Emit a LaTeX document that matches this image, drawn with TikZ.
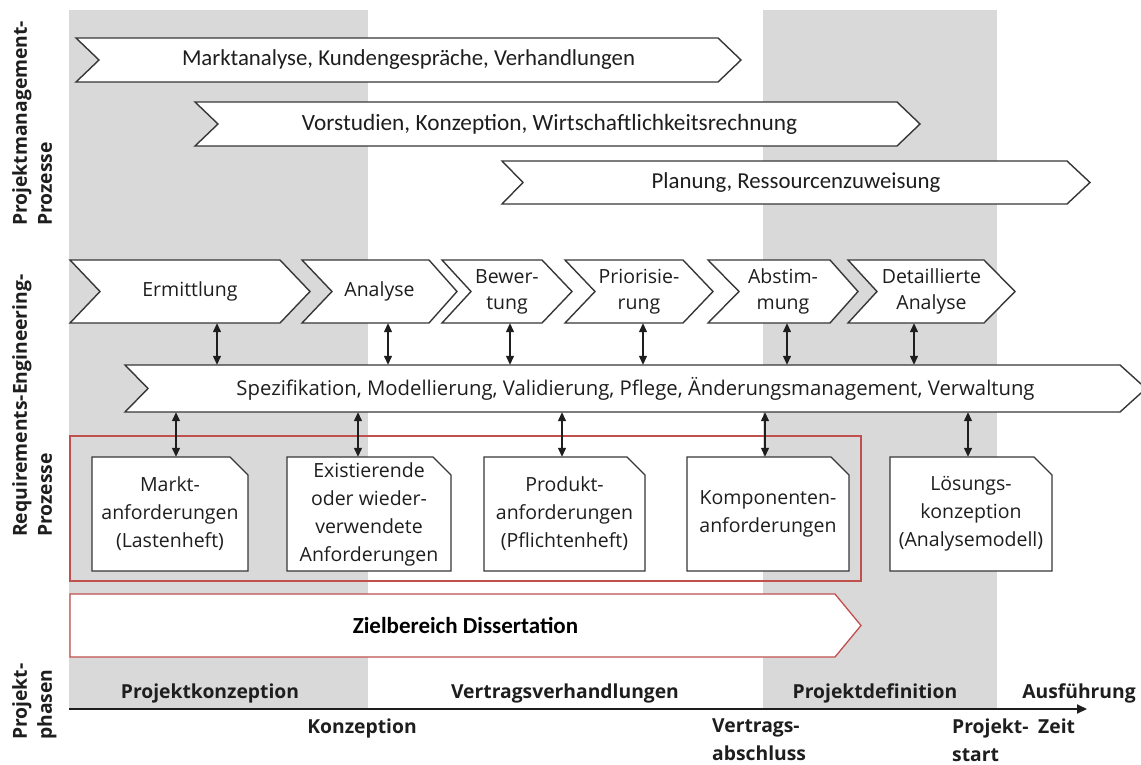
\documentclass[tikz,border=0pt]{standalone}
\usepackage{fontspec}
\setmainfont{Open Sans}
\newfontfamily\calfont{Carlito}
\usetikzlibrary{arrows.meta}

\definecolor{band}{RGB}{217,217,217}
\definecolor{ink}{RGB}{30,30,30}
\definecolor{outline}{RGB}{55,55,55}
\definecolor{redline}{RGB}{192,80,77}

% chevron: #1 style prefix, #2 name, #3 left x, #4 top y, #5 tip x, #6 bottom y,
%          #7 notch depth, #8 point depth, #9 text
\newcommand\chevron[9]{%
  \draw[#1 shape] (#3,#4) -- ({#5-#8},#4) -- (#5,{(#4+#6)/2}) -- ({#5-#8},#6)
    -- (#3,#6) -- ({#3+#7},{(#4+#6)/2}) -- cycle;
  \node[#1, minimum width={#5-#3}, minimum height={#6-#4}] (#2)
    at ({(#3+#5)/2},{(#4+#6)/2}) {#9};}

% document with cut corner: #1 name, #2 left, #3 top, #4 right, #5 bottom, #6 text
\newcommand\docbox[6]{%
  \draw[doc shape] (#2,#3) -- ({#4-18},#3) -- (#4,{#3+18}) -- (#4,#5) -- (#2,#5) -- cycle;
  \node[doc, minimum width={#4-#2}, minimum height={#5-#3}] (#1)
    at ({(#2+#4)/2},{(#3+#5)/2}) {#6};}

\begin{document}
\begin{tikzpicture}[x=1pt,y=-1pt,
  pm shape/.style={draw=outline, fill=white, line width=1.4pt},
  pm/.style={font=\calfont\fontsize{22.8}{27}\selectfont, text=ink, inner sep=0pt, align=center},
  pmw shape/.style={pm shape},
  pmw/.style={pm, xshift=-8pt, font=\calfont\fontsize{23.3}{27}\selectfont},
  re shape/.style={draw=outline, fill=white, line width=1.4pt},
  re/.style={font=\fontsize{19.5}{26}\selectfont, text=ink, inner sep=0pt, align=center},
  sp shape/.style={re shape},
  sp/.style={re, font=\fontsize{20.3}{26}\selectfont},
  ziel shape/.style={draw=redline, fill=white, line width=1.3pt},
  ziel/.style={font=\calfont\bfseries\fontsize{23}{27}\selectfont, text=black, inner sep=0pt, align=center},
  doc shape/.style={draw=outline, fill=white, line width=1.4pt},
  doc/.style={font=\fontsize{19.5}{28}\selectfont, text=ink, inner sep=0pt, align=center},
  focus/.style={draw=redline, line width=1.3pt, inner sep=0pt},
  dbl/.style={draw=ink, line width=1.3pt,
    {Triangle[width=8pt,length=9pt]}-{Triangle[width=8pt,length=9pt]}},
  axis/.style={draw=ink, line width=2pt, -{Triangle[width=9pt,length=10pt]}},
  phase/.style={font=\bfseries\fontsize{19.3}{28}\selectfont, text=ink, inner sep=0pt, align=left},
  side/.style={font=\bfseries\fontsize{19.3}{25}\selectfont, text=ink, inner sep=0pt,
    align=left, rotate=90, anchor=north west}]

\useasboundingbox (0,0) rectangle (1141,765);
\fill[white] (0,0) rectangle (1141,765);

% phase bands
\fill[band] (69,10) rectangle (368,709);
\fill[band] (763,10) rectangle (997,709);

% project management processes
\chevron{pm}{mkt}{76}{38}{741}{82}{23}{23}{Marktanalyse, Kundengespräche, Verhandlungen}
\chevron{pmw}{vor}{195}{102}{920}{146}{23}{23}{Vorstudien, Konzeption, Wirtschaftlichkeitsrechnung}
\chevron{pm}{plan}{502}{161}{1090}{204}{21}{23}{Planung, Ressourcenzuweisung}

% requirements engineering steps
\chevron{re}{ermit}{70}{260}{310}{323}{30}{30}{Ermittlung}
\chevron{re}{anal}{302}{260}{457}{323}{30}{28}{Analyse}
\chevron{re}{bew}{442}{260}{572}{323}{29}{30}{Bewer-\\tung}
\chevron{re}{prio}{565}{260}{713}{323}{30}{30}{Priorisie-\\rung}
\chevron{re}{abst}{708}{260}{858}{323}{31}{28}{Abstim-\\mung}
\chevron{re}{detail}{848}{260}{1015}{323}{29}{31}{Detaillierte\\Analyse}

\chevron{sp}{spez}{125}{365}{1146}{412}{23}{26}{Spezifikation, Modellierung, Validierung, Pflege, Änderungsmanagement, Verwaltung}

% requirement documents
\node[focus, minimum width=791, minimum height=145] (focus) at (465.5,508.5) {};
\docbox{markt}{92}{457}{248}{571}{Markt-\\anforderungen\\(Lastenheft)}
\docbox{exist}{287}{457}{451}{571}{Existierende\\oder wieder-\\verwendete\\Anforderungen}
\docbox{prod}{484}{457}{645}{571}{Produkt-\\anforderungen\\(Pflichtenheft)}
\docbox{komp}{687}{457}{849}{571}{Komponenten-\\anforderungen}
\docbox{loes}{890}{457}{1052}{571}{Lösungs-\\konzeption\\(Analysemodell)}

\chevron{ziel}{ziel}{70}{594}{861}{657}{0}{26}{Zielbereich Dissertation}

% links between steps and specification
\foreach \n/\x in {ermit/217, anal/388, bew/510, prio/643, abst/787, detail/914} {
  \coordinate (c) at (\x,0);
  \draw[dbl] (\n.south -| c) -- (spez.north -| c);
}
\foreach \n/\x in {markt/176, exist/358, prod/562, komp/765, loes/968} {
  \coordinate (c) at (\x,0);
  \draw[dbl] (spez.south -| c) -- (\n.north -| c);
}

% time axis
\coordinate (ax0) at (69,709);
\coordinate (ax1) at (1087,709);
\draw[axis] (ax0) -- (ax1);

\node[phase, anchor=base] (ph1) at (210,698) {Projektkonzeption};
\node[phase, anchor=base] (ph2) at (565,698) {Vertragsverhandlungen};
\node[phase, anchor=base] (ph3) at (875,698) {Projektdefinition};
\node[phase, anchor=base] (ph4) at (1079,698) {Ausführung};

\node[phase, anchor=base] (m1) at (362,733) {Konzeption};
\node[phase, anchor=north west] (m2) at (712,719) {Vertrags-\\abschluss};
\node[phase, anchor=north west] (m3) at (952,719) {Projekt-\\start};
\node[phase, anchor=base west] (m4) at (1038,733) {Zeit};

% row labels
\node[side] (pmlab) at (12,226) {Projektmanagement-\\Prozesse};
\node[side] (relab) at (12,537) {Requirements-Engineering-\\Prozesse};
\node[side] (phlab) at (12,740) {Projekt-\\phasen};

\end{tikzpicture}
\end{document}
